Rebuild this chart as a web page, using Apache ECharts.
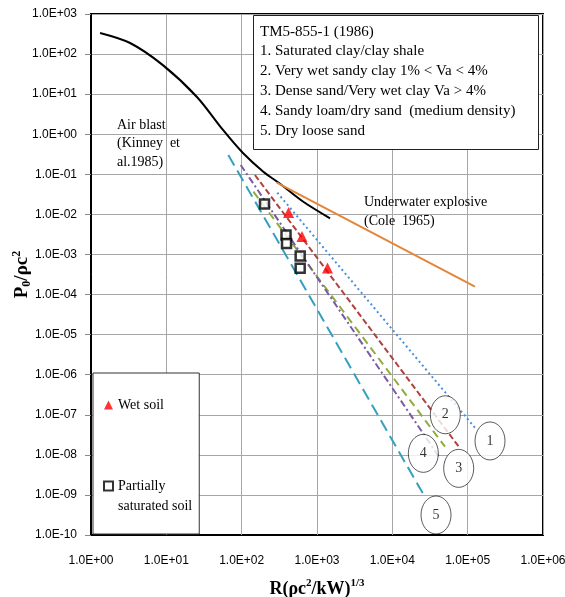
<!DOCTYPE html>
<html><head><meta charset="utf-8">
<script src="https://cdn.jsdelivr.net/npm/echarts@6/dist/echarts.min.js"></script>
<style>html,body{margin:0;padding:0;background:#fff}#c{width:565px;height:597px}</style>
</head><body><div id="c"></div>
<script>
// ---- tick labels ----
const xTickLabels = ['1.0E+00','1.0E+01','1.0E+02','1.0E+03','1.0E+04','1.0E+05','1.0E+06'];
const yTickLabels = ['1.0E-10','1.0E-09','1.0E-08','1.0E-07','1.0E-06','1.0E-05','1.0E-04','1.0E-03','1.0E-02','1.0E-01','1.0E+00','1.0E+01','1.0E+02','1.0E+03'];

// ---- series data [R(ρc²/kW)^1/3, P0/ρc²] ----
const airBlast = [[1.32,336],[3.3,189],[9.0,53],[25.5,8.5],[56.5,1.28],[104,0.34],[192,0.118],[323,0.058],[658,0.0207],[1489,0.008]];
const underwater = [[292,0.0618],[1.25e5,1.57e-4]];
const soil1 = [[297,0.0348],[1.32e5,4.2e-8]];
const soil2 = [[150,0.096],[7.9e4,1.46e-8]];
const soil3 = [[143,0.0368],[5.0e4,1.6e-8]];
const soil4 = [[97,0.171],[4.3e4,8.2e-9]];
const soil5 = [[66.5,0.303],[2.77e4,8.26e-10]];
const wetSoil = [[419,0.0111],[632,2.81e-3],[1378,4.6e-4]];
const partSat = [[201,0.0182],[388,3.06e-3],[394,1.88e-3],[598,9.2e-4],[598,4.55e-4]];
const circleLabels = ['1','2','3','4','5'];
const circlePos = [[1.98e5,2.22e-8],[5.05e4,1.0e-7],[7.6e4,4.6e-9],[2.58e4,1.09e-8],[3.8e4,3.16e-10]];

// ---- texts ----
const noteLines = ['TM5-855-1 (1986)','1. Saturated clay/clay shale','2. Very wet sandy clay 1% < Va < 4%','3. Dense sand/Very wet clay Va > 4%','4. Sandy loam/dry sand  (medium density)','5. Dry loose sand'];
const airLines = ['Air blast','(Kinney  et','al.1985)'];
const waterLines = ['Underwater explosive','(Cole  1965)'];
const legendNames = ['Wet soil','Partially saturated soil'];

const serif = '"Liberation Serif","Times New Roman",serif';
const sans = '"Liberation Sans",Arial,sans-serif';
const ellipse = 'path://M0,-1C0.552,-1,1,-0.552,1,0C1,0.552,0.552,1,0,1C-0.552,1,-1,0.552,-1,0C-1,-0.552,-0.552,-1,0,-1Z';

function lineSeries(name, data, color, type, width, smooth) {
  return {type:'line', name, data, symbol:'none', z:2, silent:true, smooth:smooth||false,
    lineStyle:{color, width, type, cap:'butt'}};
}

const chart = echarts.init(document.getElementById('c'));
chart.setOption({
  animation:false,
  backgroundColor:'#fff',
  grid:{left:91, right:22, top:14, bottom:62, show:true, borderColor:'#000', borderWidth:2,
    containLabel:false, outerBoundsMode:'none'},
  xAxis:{type:'log', logBase:10, min:1, max:1e6, interval:1,
    name:'{b|R(ρc}{s|2}{b|/kW)}{s|1/3}', nameLocation:'middle', nameGap:43, nameMoveOverlap:false,
    nameTextStyle:{rich:{
      b:{fontFamily:serif, fontWeight:'bold', fontSize:18, color:'#000', lineHeight:22},
      s:{fontFamily:serif, fontWeight:'bold', fontSize:11, color:'#000', lineHeight:12, verticalAlign:'top'}}},
    axisLine:{show:true, lineStyle:{color:'#000', width:1}},
    axisTick:{show:false}, minorTick:{show:false},
    axisLabel:{fontFamily:sans, fontSize:12, color:'#000', margin:20, showMinLabel:true, showMaxLabel:true,
      formatter:v=>xTickLabels[Math.round(Math.log10(v))]},
    splitLine:{show:true, lineStyle:{color:'#a6a6a6', width:1}}},
  yAxis:{type:'log', logBase:10, min:1e-10, max:1e3, interval:1,
    name:'{b|P}{sub|0}{b|/ρc}{s|2}', nameLocation:'middle', nameGap:58, nameRotate:90, nameMoveOverlap:false,
    nameTextStyle:{rich:{
      b:{fontFamily:serif, fontWeight:'bold', fontSize:19, color:'#000', lineHeight:22},
      sub:{fontFamily:serif, fontWeight:'bold', fontSize:12, color:'#000', lineHeight:12, verticalAlign:'bottom'},
      s:{fontFamily:serif, fontWeight:'bold', fontSize:12, color:'#000', lineHeight:12, verticalAlign:'top'}}},
    axisLine:{show:true, lineStyle:{color:'#000', width:1}},
    axisTick:{show:true, length:6, lineStyle:{color:'#888'}}, minorTick:{show:false},
    axisLabel:{fontFamily:sans, fontSize:12, color:'#000', margin:14, showMinLabel:true, showMaxLabel:true,
      formatter:v=>yTickLabels[Math.round(Math.log10(v))+10]},
    splitLine:{show:true, lineStyle:{color:'#a6a6a6', width:1}}},
  legend:{data:legendNames, orient:'vertical', left:93, top:373, z:10,
    backgroundColor:'#fff', borderColor:'#333', borderWidth:1,
    padding:[22,7,18,10], itemGap:41, itemWidth:9, itemHeight:9,
    selectedMode:false,
    formatter:n=> n===legendNames[1] ? '\nPartially\nsaturated soil' : n,
    textStyle:{fontFamily:serif, fontSize:14, color:'#000', lineHeight:20}},
  graphic:[
    {type:'rect', z:50, shape:{x:253.5, y:15.5, width:285, height:134}, style:{fill:'#fff', stroke:'#222', lineWidth:1}},
    {type:'text', z:51, x:260, y:21.8, style:{text:noteLines.join('\n'), font:'15px '+serif, lineHeight:19.8, fill:'#000', verticalAlign:'top'}},
    {type:'text', z:51, x:117, y:115.8, style:{text:airLines.join('\n'), font:'14px '+serif, lineHeight:18.5, fill:'#000', verticalAlign:'top'}},
    {type:'text', z:51, x:364, y:192.6, style:{text:waterLines.join('\n'), font:'14px '+serif, lineHeight:19.4, fill:'#000', verticalAlign:'top'}}
  ],
  series:[
    lineSeries('Air blast', airBlast, '#000', 'solid', 2, 0.3),
    lineSeries('Underwater explosive', underwater, '#e2873a', 'solid', 2),
    lineSeries('1', soil1, '#4a8ede', [2,3], 2),
    lineSeries('2', soil2, '#b0413e', [6,3], 2),
    lineSeries('3', soil3, '#8fac3e', [8,5], 2),
    lineSeries('4', soil4, '#7b5ba6', [7,3,2,3], 2),
    lineSeries('5', soil5, '#34a0bf', [12,6], 2),
    {type:'scatter', name:'Wet soil', data:wetSoil, symbol:'triangle', symbolSize:11, z:4,
      itemStyle:{color:'#ff0000'}},
    {type:'scatter', name:'Partially saturated soil', data:partSat, symbol:'rect', symbolSize:9, z:4,
      itemStyle:{color:'#fff', borderColor:'#000', borderWidth:2.5}},
    {type:'scatter', name:'labels', data:circlePos, symbol:ellipse, symbolSize:[30,38], z:5,
      itemStyle:{color:'#fff', borderColor:'#000', borderWidth:0.8},
      label:{show:true, position:'inside', fontFamily:serif, fontSize:14, color:'#000',
        formatter:p=>circleLabels[p.dataIndex]}}
  ]
});
</script></body></html>
